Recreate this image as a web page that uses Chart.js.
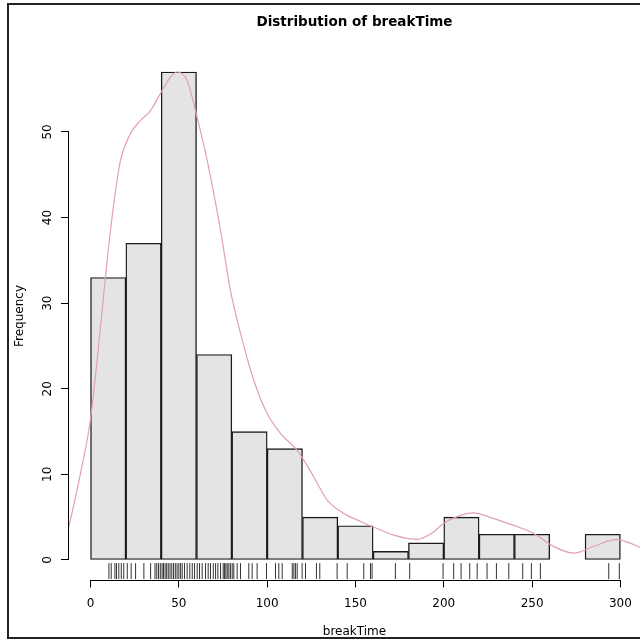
<!DOCTYPE html>
<html lang="en">
<head>
<meta charset="UTF-8">
<title>Distribution of breakTime</title>
<script src="https://cdn.jsdelivr.net/npm/chart.js"></script>
<style>
  body { margin: 0; background: #fff; }
</style>
</head>
<body>
<canvas id="histChart" width="640" height="641"></canvas>
<script>
// histogram bins (width 20), mid points and counts
const binMids = [10, 30, 50, 70, 90, 110, 130, 150, 170, 190, 210, 230, 250, 270, 290];
const binCounts = [33, 37, 57, 24, 15, 13, 5, 4, 1, 2, 5, 3, 3, 0, 3];

// density curve, scaled to frequency
const densityX = [-13, -5.7, 0, 6, 9.4, 13.2, 17, 22.6, 28, 34, 39.6, 45.3, 49, 54.7, 60, 66, 73.6,
  79.2, 84.9, 92.4, 100, 107.5, 117, 125, 134, 143, 152.8, 162, 171.7, 184.9, 193, 200, 208, 217,
  226, 235.8, 243, 250.9, 262, 273.5, 285, 293, 298, 305, 312];
const densityY = [3.2, 10.1, 16.5, 28, 35, 41.7, 46.7, 49.8, 51.3, 52.5, 54.5, 56.4, 57, 56, 52, 46.7, 38.5,
  31.5, 26.5, 21, 17.1, 14.8, 12.8, 10.2, 7, 5.5, 4.5, 3.7, 2.9, 2.4, 3.1, 4.3, 5.1, 5.5,
  5.0, 4.3, 3.8, 3.1, 1.6, 0.8, 1.6, 2.2, 2.4, 2.0, 1.4];

// rug of observed values
const rugValues = [10.4, 11.7, 13.8, 14.7, 16.0, 17.4, 18.8, 20.8, 23.0, 25.5, 30.2, 34.0, 36.5, 37.5,
  38.5, 39.5, 40.5, 41.3, 42.2, 43.1, 44.0, 45.0, 46.0, 47.0, 48.0, 49.0, 50.0, 51.0, 51.9, 53.2,
  54.7, 56.2, 57.6, 58.9, 60.4, 61.7, 63.2, 65.1, 66.6, 67.9, 69.5, 70.8, 72.1, 73.6, 75.1, 75.8,
  76.6, 77.4, 78.3, 79.2, 80.2, 81.1, 83.0, 84.9, 89.6, 91.5, 94.3, 99.6, 104.7, 106.6, 108.5,
  114.2, 115.1, 116.0, 117.0, 119.8, 121.7, 127.9, 129.8, 139.6, 145.3, 154.7, 158.5, 159.4,
  172.6, 180.7, 199.6, 205.6, 209.8, 214.7, 218.9, 224.5, 229.8, 236.8, 244.7, 249.6, 254.7,
  293.4, 299.4];

const xTicks = [0, 50, 100, 150, 200, 250, 300];
const yTicks = [0, 10, 20, 30, 40, 50];

const RUG_LEVEL = -1.3;
const fontFamily = '"DejaVu Sans", Verdana, sans-serif';

// R style axis lines: only from first to last tick
const axisLines = {
  id: 'axisLines',
  afterDatasetsDraw(chart) {
    const { ctx, chartArea, scales: { x, y } } = chart;
    ctx.save();
    ctx.strokeStyle = '#000';
    ctx.lineWidth = 1;
    ctx.beginPath();
    const yb = Math.round(chartArea.bottom) + 0.5;
    ctx.moveTo(x.getPixelForValue(xTicks[0]), yb);
    ctx.lineTo(x.getPixelForValue(xTicks[xTicks.length - 1]), yb);
    const xl = Math.round(chartArea.left) - 0.5;
    ctx.moveTo(xl, y.getPixelForValue(yTicks[0]));
    ctx.lineTo(xl, y.getPixelForValue(yTicks[yTicks.length - 1]));
    ctx.stroke();
    ctx.restore();
  }
};

// frame of the screenshot
const frame = {
  id: 'frame',
  afterDraw(chart) {
    const ctx = chart.ctx;
    ctx.save();
    ctx.strokeStyle = '#222';
    ctx.lineWidth = 2;
    ctx.strokeRect(8, 4, 645, 634);
    ctx.restore();
  }
};

new Chart(document.getElementById('histChart'), {
  type: 'bar',
  data: {
    datasets: [
      {
        type: 'line',
        data: densityX.map((v, i) => ({ x: v, y: densityY[i] })),
        borderColor: '#e3a0b1',
        borderWidth: 1.2,
        pointRadius: 0,
        cubicInterpolationMode: 'monotone',
        fill: false,
        order: 1
      },
      {
        type: 'scatter',
        data: rugValues.map(v => ({ x: v, y: RUG_LEVEL })),
        pointStyle: 'line',
        pointRotation: 90,
        pointRadius: 8,
        borderColor: '#333',
        borderWidth: 1,
        order: 2
      },
      {
        type: 'bar',
        data: binMids.map((v, i) => ({ x: v, y: binCounts[i] })),
        backgroundColor: '#e4e4e4',
        borderColor: '#1a1a1a',
        borderWidth: 1.4,
        borderSkipped: false,
        barPercentage: 1,
        categoryPercentage: 1,
        order: 3
      }
    ]
  },
  options: {
    responsive: false,
    animation: false,
    events: [],
    layout: { padding: 0, autoPadding: false },
    plugins: {
      legend: { display: false },
      tooltip: { enabled: false },
      title: {
        display: true,
        fullSize: false,
        text: 'Distribution of breakTime',
        color: '#000',
        font: { family: fontFamily, size: 13.5, weight: 'bold' },
        padding: { top: 14, bottom: 22.3 }
      }
    },
    scales: {
      x: {
        type: 'linear',
        min: -12.2,
        max: 311.1,
        offset: false,
        afterBuildTicks: s => { s.ticks = xTicks.map(v => ({ value: v })); },
        afterFit: s => { s.height = 61.5; s.paddingLeft = 0; s.paddingRight = 0; },
        grid: { offset: false, drawOnChartArea: false, drawTicks: true, tickLength: 8, color: '#000' },
        border: { display: false },
        ticks: {
          autoSkip: false, maxRotation: 0, padding: 9, color: '#000',
          font: { family: fontFamily, size: 12 }
        },
        title: {
          display: true, text: 'breakTime', color: '#000',
          font: { family: fontFamily, size: 12 },
          padding: { top: 0, bottom: 2 }
        }
      },
      y: {
        type: 'linear',
        min: -2.28,
        max: 59.28,
        afterBuildTicks: s => { s.ticks = yTicks.map(v => ({ value: v })); },
        afterFit: s => { s.width = 69; s.paddingTop = 0; s.paddingBottom = 0; },
        grid: { drawOnChartArea: false, drawTicks: true, tickLength: 8, color: '#000' },
        border: { display: false },
        ticks: {
          minRotation: 90, maxRotation: 90, crossAlign: 'center', padding: 5, color: '#000',
          font: { family: fontFamily, size: 12 }
        },
        title: {
          display: true, text: 'Frequency', color: '#000',
          font: { family: fontFamily, size: 12 },
          padding: { top: 13, bottom: 0 }
        }
      }
    }
  },
  plugins: [axisLines, frame]
});
</script>
</body>
</html>
